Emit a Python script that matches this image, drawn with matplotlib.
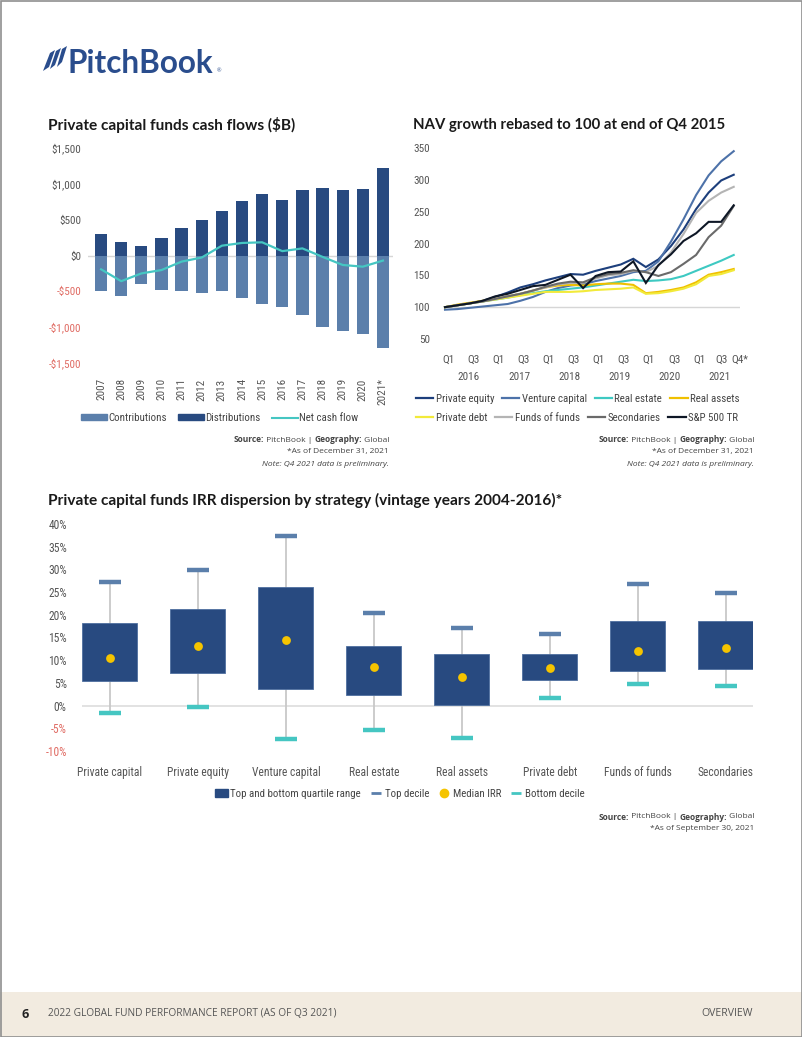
import matplotlib
matplotlib.use('Agg')
import matplotlib.pyplot as plt
from matplotlib.patches import Rectangle, Polygon
from matplotlib.lines import Line2D
from matplotlib import font_manager

# ---------------- DATA ----------------
years = ['2007', '2008', '2009', '2010', '2011', '2012', '2013', '2014',
         '2015', '2016', '2017', '2018', '2019', '2020', '2021*']
distributions = [302, 184, 132, 250, 382, 490, 623, 764, 863, 778, 915, 948, 915, 929, 1222]
contributions = [-500, -566, -392, -476, -500, -528, -500, -599, -679, -717, -835, -991, -1052, -1090, -1297]
net_cash_flow = [-193, -358, -250, -203, -85, -28, 137, 175, 184, 61, 99, -19, -132, -156, -71]
cash_ticks = [1500, 1000, 500, 0, -500, -1000, -1500]
cash_tick_labels = ['$1,500', '$1,000', '$500', '$0', '-$500', '-$1,000', '-$1,500']

quarters = ['Q1', 'Q2', 'Q3', 'Q4'] * 6
nav_years = ['2016', '2017', '2018', '2019', '2020', '2021']
nav_private_equity = [100, 103, 106, 110, 116, 123, 131, 136, 142, 147, 152, 151, 157, 162, 167, 176, 163, 175, 196, 222, 254, 280, 299, 308]
nav_venture_capital = [96, 97, 99, 101, 103, 105, 110, 116, 124, 130, 134, 136, 141, 145, 149, 155, 157, 172, 203, 238, 276, 307, 329, 345]
nav_real_estate = [100, 103, 106, 109, 112, 115, 119, 122, 125, 127, 129, 131, 134, 137, 140, 143, 141, 142, 144, 149, 157, 165, 173, 182]
nav_real_assets = [100, 104, 107, 110, 113, 117, 121, 126, 131, 134, 135, 134, 136, 137, 137, 135, 122, 124, 127, 131, 139, 151, 155, 160]
nav_private_debt = [100, 103, 106, 109, 112, 115, 118, 121, 124, 124, 124, 125, 127, 128, 129, 131, 121, 122, 125, 129, 136, 149, 152, 158]
nav_funds_of_funds = [100, 103, 106, 109, 113, 117, 121, 126, 131, 136, 138, 138, 145, 150, 152, 157, 155, 165, 186, 215, 248, 267, 280, 289]
nav_secondaries = [100, 103, 106, 109, 113, 117, 121, 126, 132, 137, 140, 139, 147, 152, 154, 158, 155, 149, 155, 168, 182, 210, 228, 259]
nav_sp500 = [100, 103, 106, 110, 117, 121, 127, 133, 135, 143, 151, 130, 149, 155, 156, 172, 138, 166, 183, 204, 216, 234, 234, 260]
nav_names = ['Private equity', 'Venture capital', 'Real estate', 'Real assets',
             'Private debt', 'Funds of funds', 'Secondaries', 'S&P 500 TR']
nav_ticks = [50, 100, 150, 200, 250, 300, 350]

strategies = ['Private capital', 'Private equity', 'Venture capital', 'Real estate',
              'Real assets', 'Private debt', 'Funds of funds', 'Secondaries']
top_decile = [27.3, 29.8, 37.4, 20.4, 17.2, 15.7, 26.7, 24.8]
top_quartile = [18.3, 21.2, 26.1, 13.2, 11.4, 11.4, 18.6, 18.6]
median_irr = [10.4, 13.2, 14.5, 8.5, 6.3, 8.2, 12.0, 12.6]
bottom_quartile = [5.4, 7.2, 3.6, 2.4, 0.1, 5.7, 7.7, 8.0]
bottom_decile = [-1.7, -0.3, -7.4, -5.4, -7.1, 1.7, 4.7, 4.3]
irr_ticks = [40, 35, 30, 25, 20, 15, 10, 5, 0, -5, -10]

# ---------------- STYLE ----------------
def pick(names):
    for n in names:
        try:
            font_manager.findfont(n, fallback_to_default=False)
            return n
        except Exception:
            pass
    return 'DejaVu Sans'

COND = pick(['Liberation Sans Narrow', 'Roboto Condensed', 'Liberation Sans'])
TITLE = pick(['Lato', 'Open Sans', 'DejaVu Sans'])
BODY = pick(['Open Sans', 'Lato', 'DejaVu Sans'])
plt.rcParams['font.family'] = [COND, 'DejaVu Sans']

NAVY = '#284a80'
STEEL = '#5b7fab'
TEAL = '#45c6c2'
GOLD = '#f5c400'
TXT = '#555555'
RED = '#e06b63'
nav_colors = ['#1d3f7c', '#4d72a9', '#3ec9c2', '#f0c000', '#f2ea3a', '#b4b4b4', '#6a6a6a', '#0e1726']
LBL = 8
LEG = 7.8

W, H = 802, 1037
fig = plt.figure(figsize=(W / 100, H / 100), dpi=100)
fig.patch.set_facecolor('white')

bg = fig.add_axes([0, 0, 1, 1], zorder=-5)
bg.set_xlim(0, W)
bg.set_ylim(H, 0)
bg.axis('off')

renderer = fig.canvas.get_renderer()


def ax_px(l, t, r, b):
    a = fig.add_axes([l / W, 1 - b / H, (r - l) / W, (b - t) / H])
    a.set_facecolor('none')
    for s in a.spines.values():
        s.set_visible(False)
    return a


def fit_text(x, y, s, width, size=10, **kw):
    t = bg.text(x, y, s, fontsize=size, **kw)
    bb = t.get_window_extent(renderer=renderer)
    t.set_fontsize(size * width / bb.width)
    return t


def rich_right(xr, y, parts, size, family=BODY, color='#444444'):
    x = xr
    for s, weight, style in reversed(parts):
        t = bg.text(x, y, s, fontsize=size, fontweight=weight, fontstyle=style,
                    family=family, color=color, ha='right', va='center')
        bb = t.get_window_extent(renderer=renderer)
        x -= bb.width


SRC_PARTS = [('Source:', 'bold', 'normal'), (' PitchBook | ', 'normal', 'normal'),
             ('Geography:', 'bold', 'normal'), (' Global', 'normal', 'normal')]


def src_size(width):
    tot = 0
    for s, w, st in SRC_PARTS:
        t = bg.text(0, 0, s, fontsize=7, fontweight=w, family=BODY)
        tot += t.get_window_extent(renderer=renderer).width
        t.remove()
    return 7 * width / tot


def source_block(xr, y0, lines, size):
    rich_right(xr, y0, SRC_PARTS, size)
    for k, (s, st) in enumerate(lines):
        rich_right(xr, y0 + 12 * (k + 1), [(s, 'normal', st)], size)


def legend_at(handles, labels, x, y, **kw):
    opts = dict(ncol=len(handles), loc='center left', bbox_to_anchor=(x, y),
                bbox_transform=bg.transData, frameon=False, fontsize=LEG,
                borderpad=0, borderaxespad=0, labelcolor='#444444')
    opts.update(kw)
    return fig.legend(handles, labels, **opts)


# ---------------- HEADER / FOOTER ----------------
bg.add_patch(Rectangle((0, 992), W, 45, facecolor='#f2ebe0', edgecolor='none'))
bg.add_patch(Rectangle((0.5, 0.5), W - 1, H - 1, facecolor='none', edgecolor='#8f8f8f', lw=1.2))
logo_c = '#2a4d8d'
for poly in ([(43, 71), (50, 53), (55, 50), (49, 67)],
             [(50, 69), (56, 51), (61, 48), (55, 65)],
             [(57, 67), (62, 49), (67, 46), (62, 62)]):
    bg.add_patch(Polygon(poly, closed=True, facecolor=logo_c, edgecolor='none'))
fit_text(68, 73, 'PitchBook', 146, size=24, family=TITLE, fontweight='bold', color=logo_c,
         ha='left', va='baseline')
bg.text(217, 72, '®', fontsize=4, color=logo_c, family=BODY, ha='left', va='baseline')

bg.text(22, 1014, '6', fontsize=9, fontweight='bold', family=BODY, color='#222222', va='center')
fit_text(48, 1014, '2022 GLOBAL FUND PERFORMANCE REPORT (AS OF Q3 2021)', 292, size=7,
         family=BODY, color='#555555', va='center', ha='left')
fit_text(701, 1014, 'OVERVIEW', 52, size=7, family=BODY, color='#555555', va='center', ha='left')

# ---------------- TITLES ----------------
fit_text(48, 125, 'Private capital funds cash flows ($B)', 248, size=10, family=TITLE,
         fontweight='bold', color='#1a1a1a', va='center')
fit_text(413, 125, 'NAV growth rebased to 100 at end of Q4 2015', 312, size=10, family=TITLE,
         fontweight='bold', color='#1a1a1a', va='center')
fit_text(48, 500, 'Private capital funds IRR dispersion by strategy (vintage years 2004-2016)*', 515,
         size=10, family=TITLE, fontweight='bold', color='#1a1a1a', va='center')

ss = src_size(157)
source_block(389, 440, [('*As of December 31, 2021', 'normal'), ('Note: Q4 2021 data is preliminary.', 'italic')], ss)
source_block(754, 440, [('*As of December 31, 2021', 'normal'), ('Note: Q4 2021 data is preliminary.', 'italic')], ss)
source_block(754, 817, [('*As of September 30, 2021', 'normal')], ss)

# ---------------- CHART 1: cash flows ----------------
ax1 = ax_px(88, 148, 393, 363)
xs = list(range(len(years)))
ax1.bar(xs, contributions, width=0.61, color=STEEL, zorder=2, label='Contributions')
ax1.bar(xs, distributions, width=0.61, color=NAVY, zorder=2, label='Distributions')
ax1.axhline(0, color='#d6d6d6', lw=1, zorder=1)
ax1.plot(xs, net_cash_flow, color=TEAL, lw=1.6, zorder=3, label='Net cash flow')
ax1.set_xlim(-0.65, 14.5)
ax1.set_ylim(-1500, 1500)
ax1.set_yticks(cash_ticks)
ax1.set_yticklabels(cash_tick_labels)
ax1.set_xticks(xs)
ax1.set_xticklabels(years, rotation=90)
ax1.tick_params(axis='both', length=0, labelsize=LBL, labelcolor=TXT)
ax1.tick_params(axis='y', pad=5)
ax1.tick_params(axis='x', pad=11)
for lab, v in zip(ax1.get_yticklabels(), cash_ticks):
    lab.set_color(RED if v < 0 else TXT)

h1 = [Rectangle((0, 0), 1, 1, color=STEEL), Rectangle((0, 0), 1, 1, color=NAVY),
      Line2D([], [], color=TEAL, lw=1.5)]
legend_at(h1, ['Contributions', 'Distributions', 'Net cash flow'], 81, 418,
          handlelength=2.4, handleheight=0.45, handletextpad=0.15, columnspacing=1.0)

# ---------------- CHART 2: NAV ----------------
ax2 = ax_px(445, 148, 740, 339)
nav_series = [nav_private_equity, nav_venture_capital, nav_real_estate, nav_real_assets,
              nav_private_debt, nav_funds_of_funds, nav_secondaries, nav_sp500]
qx = list(range(len(quarters)))
ax2.axhline(100, color='#d6d6d6', lw=1, zorder=1)
order = [5, 6, 4, 3, 2, 1, 0, 7]
for k in order:
    ax2.plot(qx, nav_series[k], color=nav_colors[k], lw=1.5, zorder=3 + k * 0.1,
             clip_on=False, solid_joinstyle='miter')
ax2.set_xlim(0, 23)
ax2.set_ylim(50, 350)
ax2.set_yticks(nav_ticks)
ax2.tick_params(axis='both', length=0, labelsize=LBL, labelcolor=TXT)
ax2.tick_params(axis='y', pad=11)
tick_idx = [i for i in qx if quarters[i] in ('Q1', 'Q3')] + [23]
tick_pos = [i + 0.25 for i in tick_idx]
tick_pos[-2] = 22.05
tick_pos[-1] = 23.5
ax2.set_xticks(tick_pos)
ax2.set_xticklabels([quarters[i] + ('*' if i == 23 else '') for i in tick_idx])
ax2.tick_params(axis='x', pad=11)
for k, yname in enumerate(nav_years):
    ax2.text(k * 4 + 1.9, -0.2, yname, transform=ax2.get_xaxis_transform(),
             ha='center', va='center', fontsize=LBL, color=TXT)

for row in range(2):
    hs = [Line2D([], [], color=nav_colors[k], lw=1.6) for k in range(row * 4, row * 4 + 4)]
    legend_at(hs, nav_names[row * 4: row * 4 + 4], 416, 399 + 19 * row,
              handlelength=1.6, handletextpad=0.2, columnspacing=0.75)

# ---------------- CHART 3: IRR dispersion ----------------
ax3 = ax_px(82, 524, 753, 751)
sx = list(range(len(strategies)))
ax3.axhline(0, color='#dddddd', lw=1.2, zorder=1)
ax3.vlines(sx, bottom_decile, top_decile, color='#c8c8c8', lw=1.3, zorder=2)
box_h = [a - b for a, b in zip(top_quartile, bottom_quartile)]
ax3.bar(sx, box_h, bottom=bottom_quartile, width=0.625, color=NAVY, edgecolor='#4e6f9f',
        lw=0.6, zorder=3)
ax3.hlines(top_decile, [x - 0.123 for x in sx], [x + 0.123 for x in sx], color=STEEL, lw=3.2, zorder=4)
ax3.hlines(bottom_decile, [x - 0.123 for x in sx], [x + 0.123 for x in sx], color=TEAL, lw=3.2, zorder=4)
ax3.scatter(sx, median_irr, s=40, color=GOLD, zorder=5, linewidths=0)
ax3.set_xlim(-0.318, 7.31)
ax3.set_ylim(-10, 40)
ax3.set_yticks(irr_ticks)
ax3.set_yticklabels([f'{v}%' for v in irr_ticks])
ax3.set_xticks(sx)
ax3.set_xticklabels(strategies)
ax3.tick_params(axis='both', length=0, labelsize=LBL + 0.3, labelcolor=TXT)
ax3.tick_params(axis='y', pad=11)
ax3.tick_params(axis='x', pad=11)
for lab, v in zip(ax3.get_yticklabels(), irr_ticks):
    lab.set_color(RED if v < 0 else TXT)

h3 = [Rectangle((0, 0), 1, 1, color=NAVY),
      Line2D([], [], color=STEEL, marker='_', markersize=7, mew=2, linestyle='none'),
      Line2D([], [], color=GOLD, marker='o', markersize=6, linestyle='none'),
      Line2D([], [], color=TEAL, marker='_', markersize=7, mew=2, linestyle='none')]
legend_at(h3, ['Top and bottom quartile range', 'Top decile', 'Median IRR', 'Bottom decile'],
          215, 794, handlelength=1.2, handleheight=0.7, handletextpad=0.2, columnspacing=0.8)

fig.savefig('out.png', dpi=100, facecolor='white')
